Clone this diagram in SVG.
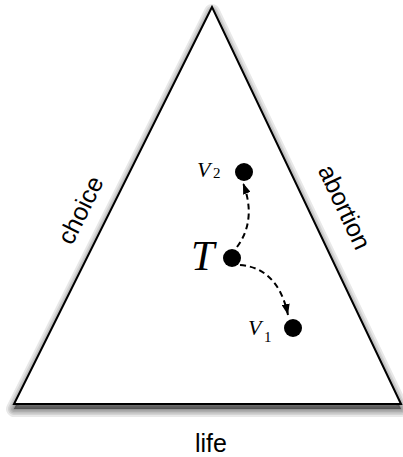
<svg xmlns="http://www.w3.org/2000/svg" width="403" height="457" viewBox="0 0 403 457">
<defs>
<marker id="ah" markerWidth="12" markerHeight="8" refX="11" refY="4" orient="auto" markerUnits="userSpaceOnUse">
<path d="M0,0 L11,4 L0,8 Z" fill="#000"/>
</marker>
<style>
.lbl{font-family:"Liberation Sans",Arial,sans-serif;font-size:25px;fill:#000}
.math{font-family:"Liberation Serif","Times New Roman",serif;font-style:italic;fill:#000}
.sub{font-family:"Liberation Serif","Times New Roman",serif;fill:#000}
.dot{fill:#000}
.con{fill:none;stroke:#000;stroke-width:2;stroke-dasharray:6,4}
.shd{fill:#000;stroke:#000;stroke-linejoin:round;stroke-opacity:0.09;fill-opacity:0.09}
</style>
</defs>
<rect width="403" height="457" fill="#fff"/>
<g id="triangle">
<g transform="translate(0,5)">
<polygon class="shd" points="212,7 14,404 401,404" stroke-width="16"/>
<polygon class="shd" points="212,7 14,404 401,404" stroke-width="12"/>
<polygon class="shd" points="212,7 14,404 401,404" stroke-width="9"/>
<polygon class="shd" points="212,7 14,404 401,404" stroke-width="6"/>
<polygon class="shd" points="212,7 14,404 401,404" stroke-width="3"/>
<polygon class="shd" points="212,7 14,404 401,404" stroke-width="1"/>
</g>
<polygon points="212,7 14,404 401,404" fill="#fff" stroke="#000" stroke-width="2"/>
</g>
<g id="label-choice"><text class="lbl" x="0" y="0" text-anchor="middle" dominant-baseline="central" transform="translate(80,210) rotate(-63.5)">choice</text></g>
<g id="label-abortion"><text class="lbl" x="0" y="0" text-anchor="middle" dominant-baseline="central" transform="translate(345,207) rotate(64.6)">abortion</text></g>
<g id="label-life"><text class="lbl" x="211" y="452" text-anchor="middle">life</text></g>
<g id="node-T">
<circle class="dot" cx="232" cy="258" r="9"/>
<text class="math" x="191" y="270" font-size="42">T</text>
</g>
<g id="node-V2">
<circle class="dot" cx="244" cy="172" r="9"/>
<text class="math" x="197" y="177" font-size="22">V</text>
<text class="sub" x="213" y="178" font-size="15">2</text>
</g>
<g id="node-V1">
<circle class="dot" cx="293" cy="328" r="9"/>
<text class="math" x="248" y="335" font-size="22">V</text>
<text class="sub" x="264" y="342" font-size="15">1</text>
</g>
<g id="connectors">
<path class="con" d="M237,247 Q257,220 243,183" marker-end="url(#ah)"/>
<path class="con" d="M240,265 Q278,268 288,315" marker-end="url(#ah)"/>
</g>
</svg>
